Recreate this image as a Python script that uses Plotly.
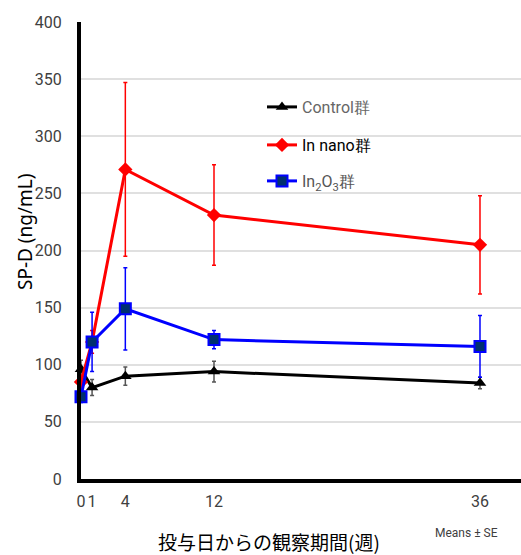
import plotly.graph_objects as go

weeks = [0, 1, 4, 12, 36]
control = [96, 80, 90, 94, 84]
control_se = [8, 7, 8, 9, 5]
nano = [85, 120, 271, 231, 205]
nano_se = [6, 10, 76, 44, 43]
in2o3 = [72, 120, 149, 122, 116]
in2o3_se = [5, 26, 36, 8, 27]

yticks = [0, 50, 100, 150, 200, 250, 300, 350, 400]
xticks = [0, 1, 4, 12, 36]

narrow = "Liberation Sans Narrow, Arial Narrow, Roboto, sans-serif"

fig = go.Figure()
fig.add_trace(go.Scatter(
    x=weeks, y=control, mode="lines+markers",
    name="<span style='color:#666666'>Control群</span>", legend="legend",
    line=dict(color="black", width=3),
    marker=dict(symbol="triangle-up", size=11, color="black"),
    error_y=dict(type="data", array=control_se, color="#555555", thickness=1.5, width=2),
    cliponaxis=False))
fig.add_trace(go.Scatter(
    x=weeks, y=nano, mode="lines+markers",
    name="In nano群", legend="legend2",
    line=dict(color="#ff0000", width=3),
    marker=dict(symbol="diamond", size=11, color="#ff0000"),
    error_y=dict(type="data", array=nano_se, color="#ff0000", thickness=1.5, width=2),
    cliponaxis=False))
fig.add_trace(go.Scatter(
    x=weeks, y=in2o3, mode="lines+markers",
    name="<span style='color:#555555'>In<sub>2</sub>O<sub>3</sub>群</span>", legend="legend3",
    line=dict(color="#0000ff", width=3),
    marker=dict(symbol="square", size=11, color="#003070", line=dict(color="#0000ff", width=2)),
    error_y=dict(type="data", array=in2o3_se, color="#0000ff", thickness=1.5, width=2),
    cliponaxis=False))

def leg(ypix):
    return dict(x=(262 - 81) / 440, y=(479 - ypix) / 457, xanchor="left", yanchor="middle",
                bgcolor="rgba(255,255,255,0)", font=dict(size=16, family=narrow, color="black"),
                itemwidth=30)

fig.update_layout(
    width=521, height=555,
    margin=dict(l=81, r=0, t=22, b=76),
    plot_bgcolor="white", paper_bgcolor="white",
    font=dict(family=narrow, size=16, color="#404040"),
    showlegend=True,
    legend=leg(107), legend2=leg(145), legend3=leg(181),
    xaxis=dict(range=[0, 39.7], tickvals=xticks, ticktext=[str(t) for t in xticks],
               showgrid=False, zeroline=False, showline=True, linecolor="black", linewidth=4,
               ticks="", ticklabelstandoff=5,
               tickfont=dict(family=narrow, size=16, color="#404040")),
    yaxis=dict(range=[0, 400], tickvals=yticks, showgrid=True, gridcolor="#e0e0e0", gridwidth=1.5,
               zeroline=False, showline=True, linecolor="black", linewidth=4, ticks="",
               ticklabelstandoff=12,
               tickfont=dict(family=narrow, size=16, color="#404040")),
)
fig.add_annotation(text="SP-D (ng/mL)", xref="paper", yref="paper", x=(25 - 81) / 440, y=(479 - 232) / 457,
                   xanchor="center", yanchor="middle", showarrow=False, textangle=-90,
                   font=dict(family="Noto Sans", size=19, color="black"))
fig.add_annotation(text="投与日からの観察期間(週)", xref="paper", yref="paper", x=(269 - 81) / 440,
                   y=(479 - 541) / 457, xanchor="center", yanchor="middle", showarrow=False,
                   font=dict(family="Noto Sans CJK JP", size=19, color="black"))
fig.add_annotation(text="Means ± SE", xref="paper", yref="paper", x=(466 - 81) / 440, y=(479 - 533) / 457,
                   xanchor="center", yanchor="middle", showarrow=False,
                   font=dict(family=narrow, size=12, color="#404040"))
fig.write_html("out.html")
